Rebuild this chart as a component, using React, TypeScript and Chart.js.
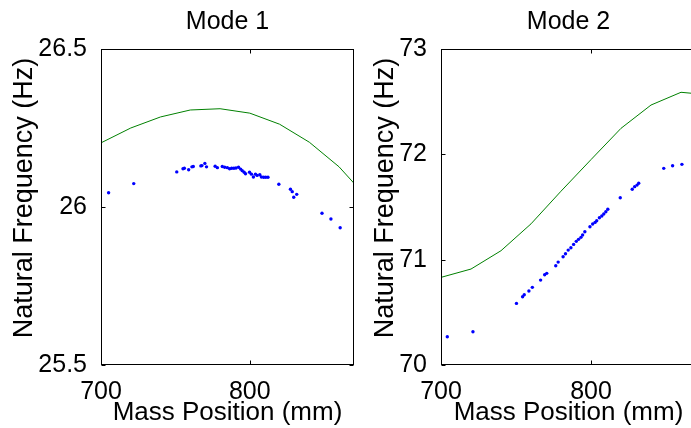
import React, { useEffect, useRef } from "react";
import { Chart, registerables } from "chart.js";

Chart.register(...registerables);

// ---- data ----
const xTicks = [700, 800];
const mode1YTicks = [25.5, 26, 26.5];
const mode2YTicks = [70, 71, 72, 73];

const modelX = [700, 720, 740, 760, 780, 800, 820, 840, 860, 880];
const mode1ModelY = [26.203, 26.25, 26.285, 26.307, 26.311, 26.297, 26.262, 26.205, 26.127, 26.023];
const mode2ModelY = [70.832, 70.911, 71.085, 71.34, 71.65, 71.95, 72.247, 72.468, 72.589, 72.563];

const mode1MeasX = [705.1, 722, 750.9, 755.1, 756, 758.9, 761.1, 762, 767.1, 767.8, 769.8, 770.9, 776.7, 778.2, 781.5, 783.1, 784.9, 786.4, 787.8, 789.3, 790.7, 792.4, 793.8, 794.9, 796.2, 797.1, 799.8, 801.1, 802.4, 803.8, 804.9, 806.7, 807.8, 809.3, 810.7, 812.2, 819.5, 827.3, 828.5, 829.5, 831.5, 848.5, 854.5, 860.7];
const mode1MeasY = [26.045, 26.074, 26.111, 26.121, 26.1225, 26.118, 26.127, 26.128, 26.13, 26.131, 26.138, 26.127, 26.129, 26.1245, 26.128, 26.126, 26.1245, 26.121, 26.1225, 26.1225, 26.1234, 26.1256, 26.12, 26.115, 26.11, 26.105, 26.11, 26.104, 26.095, 26.104, 26.1, 26.102, 26.095, 26.094, 26.094, 26.094, 26.072, 26.056, 26.0485, 26.031, 26.04, 25.98, 25.962, 25.9345];

const mode2MeasX = [704.2, 721.3, 750.3, 754.4, 755.5, 758.6, 760.9, 766.4, 769.1, 770.5, 776.5, 778.1, 781.4, 783, 784.8, 786.6, 788.4, 790.2, 791.7, 793.3, 794.4, 795.9, 799.3, 801.1, 802.7, 803.8, 805.6, 807.2, 808.5, 809.9, 811.2, 819.5, 827.5, 829.1, 830.7, 831.8, 848.5, 854.4, 860.6];
const mode2MeasY = [70.268, 70.315, 70.585, 70.648, 70.667, 70.702, 70.737, 70.806, 70.857, 70.87, 70.942, 70.977, 71.028, 71.056, 71.091, 71.113, 71.145, 71.174, 71.193, 71.212, 71.234, 71.265, 71.312, 71.338, 71.354, 71.369, 71.398, 71.414, 71.433, 71.455, 71.478, 71.588, 71.668, 71.693, 71.708, 71.725, 71.867, 71.892, 71.905];

const titles = ["Mode 1", "Mode 2"];
const xLabel = "Mass Position (mm)";
const yLabel = "Natural Frequency (Hz)";

const FONT = "'Liberation Sans', Arial, Helvetica, sans-serif";

const framePlugin = {
  id: "matlabFrame",
  afterDraw(chart: any, _args: any, opts: any) {
    const { ctx, chartArea: a, scales } = chart;
    const xs = scales.x;
    const ys = scales.y;
    ctx.save();
    ctx.strokeStyle = "#000";
    ctx.lineWidth = 1;
    const L = Math.round(a.left) + 0.5;
    const R = Math.round(a.right) - 0.5;
    const T = Math.round(a.top) + 0.5;
    const B = Math.round(a.bottom) - 0.5;
    ctx.strokeRect(L, T, R - L, B - T);
    const tl = 4;
    ctx.beginPath();
    for (const v of opts.xTicks) {
      const p = Math.round(xs.getPixelForValue(v)) + 0.5;
      ctx.moveTo(p, B); ctx.lineTo(p, B - tl);
      ctx.moveTo(p, T); ctx.lineTo(p, T + tl);
    }
    for (const v of opts.yTicks) {
      const p = Math.round(ys.getPixelForValue(v)) + 0.5;
      ctx.moveTo(L, p); ctx.lineTo(L + tl, p);
      ctx.moveTo(R, p); ctx.lineTo(R - tl, p);
    }
    ctx.stroke();

    ctx.fillStyle = "#000";
    const cx = (a.left + a.right) / 2;
    ctx.textAlign = "center";
    ctx.textBaseline = "alphabetic";
    ctx.font = `25px ${FONT}`;
    ctx.fillText(opts.title, cx, 29);
    ctx.font = `26px ${FONT}`;
    ctx.fillText(opts.xLabel, cx, 420);
    ctx.save();
    ctx.translate(opts.yLabelX, 198);
    ctx.rotate(-Math.PI / 2);
    ctx.font = `27px ${FONT}`;
    ctx.fillText(opts.yLabel, 0, 0);
    ctx.restore();
    ctx.restore();
  },
};

function makeConfig(
  modelY: number[],
  measX: number[],
  measY: number[],
  yTicks: number[],
  title: string,
  yAxisWidth: number,
  rightPad: number,
  yLabelX: number
): any {
  return {
    type: "scatter",
    data: {
      datasets: [
        {
          data: measX.map((x, i) => ({ x, y: measY[i] })),
          showLine: false,
          pointRadius: 1.7,
          pointBackgroundColor: "#0000ff",
          pointBorderWidth: 0,
          pointStyle: "circle",
        },
        {
          data: modelX.map((x, i) => ({ x, y: modelY[i] })),
          showLine: true,
          borderColor: "#008000",
          borderWidth: 1,
          pointRadius: 0,
          tension: 0,
          fill: false,
        },
      ],
    },
    options: {
      animation: false,
      responsive: false,
      maintainAspectRatio: false,
      devicePixelRatio: 1,
      layout: { padding: { left: 0, top: 49, right: rightPad, bottom: 0 } },
      plugins: {
        legend: { display: false },
        tooltip: { enabled: false },
        title: { display: false },
        matlabFrame: { xTicks, yTicks, title, xLabel, yLabel, yLabelX },
      },
      scales: {
        x: {
          type: "linear",
          min: 700,
          max: 870,
          grid: { display: false },
          border: { display: false },
          afterBuildTicks: (s: any) => {
            s.ticks = xTicks.map((v) => ({ value: v }));
          },
          afterFit: (s: any) => {
            s.height = 63;
          },
          ticks: {
            color: "#000",
            padding: 4,
            maxRotation: 0,
            font: { family: FONT, size: 25 },
            callback: (v: any) => String(v),
          },
        },
        y: {
          type: "linear",
          min: yTicks[0],
          max: yTicks[yTicks.length - 1],
          grid: { display: false },
          border: { display: false },
          afterBuildTicks: (s: any) => {
            s.ticks = yTicks.map((v) => ({ value: v }));
          },
          afterFit: (s: any) => {
            s.width = yAxisWidth;
          },
          ticks: {
            color: "#000",
            padding: 6,
            font: { family: FONT, size: 25 },
            callback: (v: any) => String(v),
          },
        },
      },
    },
    plugins: [framePlugin],
  };
}

function Panel(props: { cfg: () => any; left: number; width: number }) {
  const ref = useRef<HTMLCanvasElement | null>(null);
  useEffect(() => {
    if (!ref.current) return;
    const chart = new Chart(ref.current, props.cfg());
    return () => chart.destroy();
  }, []);
  return (
    <canvas
      ref={ref}
      width={props.width}
      height={428}
      style={{ position: "absolute", left: props.left, top: 0, width: props.width, height: 428, display: "block" }}
    />
  );
}

export default function App() {
  return (
    <div
      style={{
        position: "fixed",
        left: 0,
        top: 0,
        width: 691,
        height: 428,
        overflow: "hidden",
        background: "#fff",
      }}
    >
      <Panel
        left={0}
        width={358}
        cfg={() => makeConfig(mode1ModelY, mode1MeasX, mode1MeasY, mode1YTicks, titles[0], 101, 2, 32)}
      />
      <Panel
        left={358}
        width={362}
        cfg={() => makeConfig(mode2ModelY, mode2MeasX, mode2MeasY, mode2YTicks, titles[1], 83, 24, 35)}
      />
    </div>
  );
}
